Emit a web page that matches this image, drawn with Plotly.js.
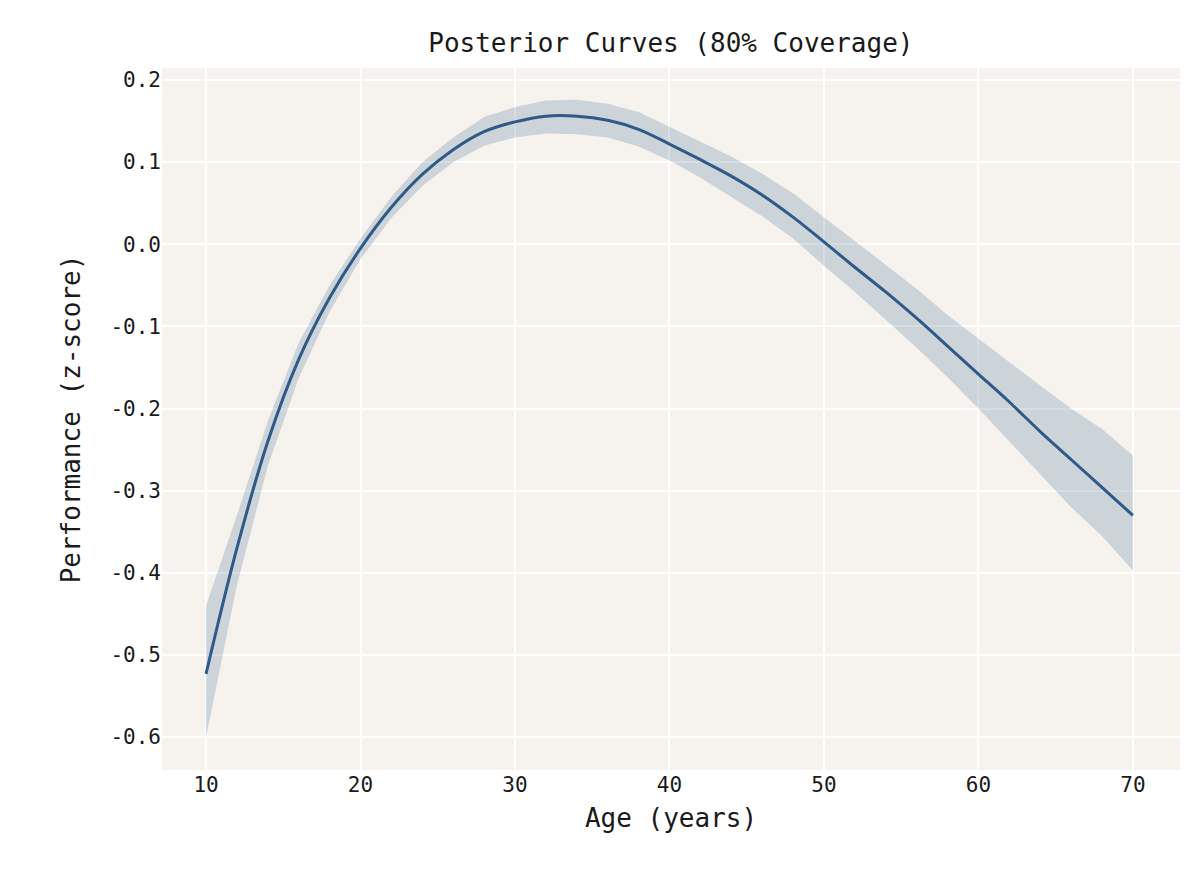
<!DOCTYPE html>
<html>
<head>
<script src="https://cdn.plot.ly/plotly-3.0.1.min.js"></script>
<style>body{margin:0;background:#fff}#chart{width:1198px;height:890px}</style>
</head>
<body>
<div id="chart"></div>
<script>
// posterior mean and 80% band
var age = [10,12,14,16,18,20,22,24,26,28,30,32,34,36,38,40,42,44,46,48,50,52,54,56,58,60,62,64,66,68,70];
var mean = [-0.523,-0.37,-0.24,-0.14,-0.065,-0.005,0.045,0.085,0.115,0.137,0.149,0.156,0.156,0.151,0.14,0.122,0.103,0.083,0.06,0.033,0.003,-0.028,-0.058,-0.09,-0.124,-0.158,-0.192,-0.228,-0.262,-0.296,-0.33];
var upper = [-0.44,-0.33,-0.215,-0.12,-0.05,0.007,0.058,0.1,0.13,0.155,0.167,0.175,0.176,0.171,0.161,0.143,0.126,0.107,0.086,0.062,0.033,0.004,-0.024,-0.054,-0.086,-0.115,-0.143,-0.172,-0.2,-0.225,-0.257];
var lower = [-0.60,-0.415,-0.27,-0.163,-0.082,-0.018,0.032,0.071,0.1,0.12,0.13,0.135,0.134,0.13,0.119,0.102,0.081,0.058,0.034,0.007,-0.026,-0.058,-0.092,-0.126,-0.162,-0.2,-0.24,-0.28,-0.32,-0.355,-0.397];
var xTicks = [10,20,30,40,50,60,70];
var yTicks = [0.2,0.1,0,-0.1,-0.2,-0.3,-0.4,-0.5,-0.6];
var yLabels = ["0.2","0.1","0.0","-0.1","-0.2","-0.3","-0.4","-0.5","-0.6"];

var band = {
  x: age.concat(age.slice().reverse()),
  y: upper.concat(lower.slice().reverse()),
  fill: "toself", type: "scatter", mode: "lines",
  line: {width: 0}, fillcolor: "rgba(47,90,135,0.2)",
  hoverinfo: "skip", showlegend: false
};
var line = {
  x: age, y: mean, type: "scatter", mode: "lines",
  line: {color: "#2f5a87", width: 3, shape: "spline"}, showlegend: false
};

var font = "DejaVu Sans Mono, Liberation Mono, monospace";
var layout = {
  width: 1198, height: 890,
  margin: {l: 162, r: 18, t: 68, b: 120},
  paper_bgcolor: "#ffffff", plot_bgcolor: "#f6f3ee",
  font: {family: font, color: "#1a1a1a", size: 21},
  title: {text: "Posterior Curves (80% Coverage)", font: {size: 26}, x: 0.56, y: 0.962},
  xaxis: {
    title: {text: "Age (years)", font: {size: 26}, standoff: 12},
    range: [7.15, 73.05], tickvals: xTicks,
    gridcolor: "#ffffff", gridwidth: 2, zeroline: false, showline: false, ticks: ""
  },
  yaxis: {
    title: {text: "Performance (z-score)", font: {size: 26}, standoff: 22},
    range: [-0.64, 0.2146], tickvals: yTicks, ticktext: yLabels,
    gridcolor: "#ffffff", gridwidth: 2, zeroline: false, showline: false, ticks: ""
  }
};
Plotly.newPlot("chart", [band, line], layout, {displayModeBar: false});
</script>
</body>
</html>
